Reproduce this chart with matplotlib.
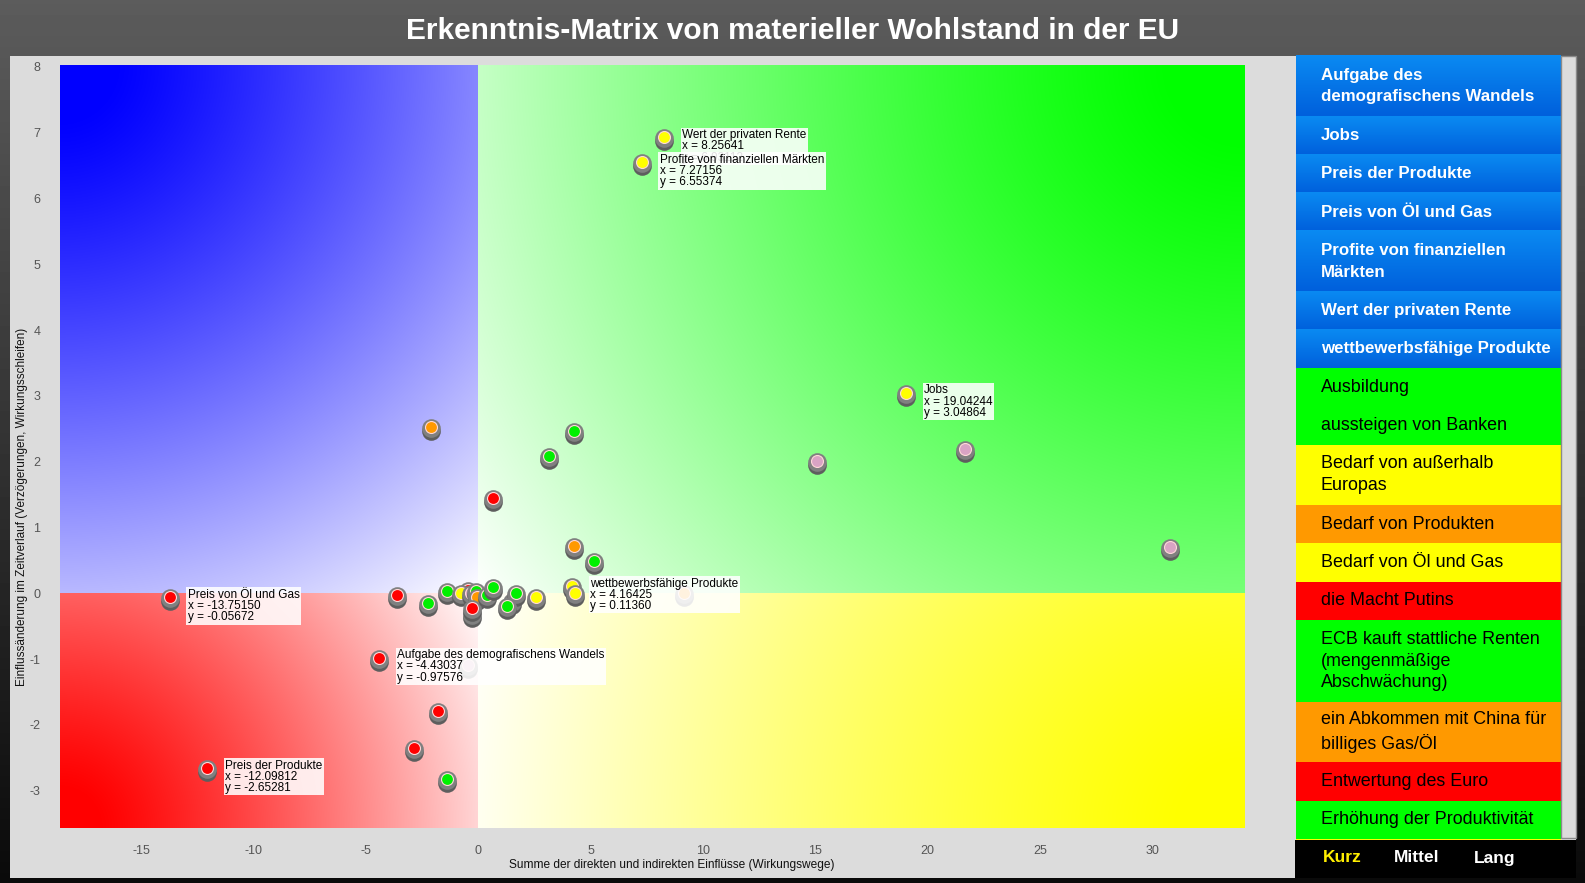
import numpy as np
import matplotlib
matplotlib.use("Agg")
import matplotlib.pyplot as plt
import matplotlib.transforms as mtransforms
from matplotlib.patches import Rectangle
from matplotlib.colors import LinearSegmentedColormap

plt.rcParams['font.family'] = ['Liberation Sans', 'DejaVu Sans']
plt.rcParams['axes.unicode_minus'] = False

# ---- data ----
label_names = ['Wert der privaten Rente', 'Profite von finanziellen Märkten', 'Jobs',
               'wettbewerbsfähige Produkte', 'Preis von Öl und Gas',
               'Aufgabe des demografischens Wandels', 'Preis der Produkte']
label_x = [8.25641, 7.27156, 19.04244, 4.16425, -13.75150, -4.43037, -12.09812]
label_y = [6.93112, 6.55374, 3.04864, 0.11360, -0.05672, -0.97576, -2.65281]
label_col = ['yellow', 'yellow', 'yellow', 'yellow', 'red', 'red', 'red']

pts_x = [-2.12, 4.27, 3.14, 0.66, 4.27, 5.16, -3.64, -2.24, -0.45, -1.39, -0.78,
         -0.35, -0.10, -0.28, -0.08, -0.28, 0.40, 0.66, 1.50, 1.67, 1.26, 2.56,
         4.30, 9.17, -0.45, -1.82, -2.86, -1.39, 15.06, 21.68, 30.82]
pts_y = [2.53, 2.46, 2.08, 1.45, 0.72, 0.49, -0.02, -0.14, 0.05, 0.04, 0.01,
         0.00, 0.03, -0.32, -0.05, -0.23, -0.02, 0.09, -0.12, 0.01, -0.20, -0.05,
         0.01, 0.00, -1.09, -1.79, -2.35, -2.82, 2.01, 2.20, 0.71]
pts_col = ['orange', 'green', 'green', 'red', 'orange', 'green', 'red', 'green', 'red',
           'green', 'yellow', 'pink', 'green', 'red', 'orange', 'red', 'green', 'green',
           'pink', 'green', 'green', 'yellow', 'yellow', 'orange', 'pink', 'red', 'red',
           'green', 'pink', 'pink', 'pink']

marker_colors = {'red': '#ff0000', 'green': '#00f000', 'yellow': '#ffff00',
                 'orange': '#ff9900', 'pink': '#d9a3c4'}

x_ticks = [-15, -10, -5, 0, 5, 10, 15, 20, 25, 30]
y_ticks = [-3, -2, -1, 0, 1, 2, 3, 4, 5, 6, 7, 8]

legend_labels = ['Aufgabe des\ndemografischens Wandels', 'Jobs', 'Preis der Produkte',
                 'Preis von Öl und Gas', 'Profite von finanziellen\nMärkten',
                 'Wert der privaten Rente', 'wettbewerbsfähige Produkte', 'Ausbildung',
                 'aussteigen von Banken', 'Bedarf von außerhalb\nEuropas',
                 'Bedarf von Produkten', 'Bedarf von Öl und Gas', 'die Macht Putins',
                 'ECB kauft stattliche Renten\n(mengenmäßige\nAbschwächung)',
                 'ein Abkommen mit China für\nbilliges Gas/Öl', 'Entwertung des Euro',
                 'Erhöhung der Produktivität', '']
legend_colors = ['blue'] * 7 + ['green', 'green', 'yellow', 'orange', 'yellow', 'red',
                                'green', 'orange', 'red', 'green', 'yellow']
legend_fill = {'green': '#00ff00', 'yellow': '#ffff00', 'orange': '#ff9900', 'red': '#ff0000'}

xmin, xmax = -18.64, 34.14
ymin, ymax = -3.567, 8.03

FW, FH = 1585, 883
fig = plt.figure(figsize=(FW / 100, FH / 100), dpi=100)

# ---- background layer in pixel coordinates ----
bg = fig.add_axes([0, 0, 1, 1], zorder=0)
bg.axis('off')
grad = np.linspace(0.36, 0.04, 200)[:, None]
bg.imshow(grad, cmap='gray', vmin=0, vmax=1, extent=[0, FW, FH, 0], aspect='auto',
          interpolation='bilinear')
bg.add_patch(Rectangle((10, 56), 1566, 822, facecolor='#dcdcdc', edgecolor='none'))
bg.text(FW / 2, 31, 'Erkenntnis-Matrix von materieller Wohlstand in der EU', color='white',
        fontsize=21.5, fontweight='bold', ha='center', va='center')

# legend panel
top = 56
blue_grad = np.linspace(0, 1, 50)[:, None]
blue_cm = LinearSegmentedColormap.from_list('b', ['#0a8af2', '#0060dc'])
for lab, col in zip(legend_labels, legend_colors):
    n = lab.count('\n') + 1
    h = 16.3 + 22 * n
    if col == 'blue':
        bg.imshow(blue_grad, cmap=blue_cm, extent=[1296, 1561, top + h, top], aspect='auto',
                  interpolation='bilinear', zorder=2)
        bg.text(1321, top + h / 2, lab, color='white', fontsize=12.2, fontweight='bold',
                va='center', ha='left', zorder=3, linespacing=1.55)
    else:
        bg.add_patch(Rectangle((1296, top), 265, h, facecolor=legend_fill[col],
                               edgecolor='none', zorder=2))
        bg.text(1321, top + h / 2, lab, color='black', fontsize=12.9,
                va='center', ha='left', zorder=3, linespacing=1.38)
    top += h
bg.set_xlim(0, FW)
bg.set_ylim(FH, 0)
bg.add_patch(Rectangle((1561, 56), 15, 782, facecolor='#dcdcdc', edgecolor='#8a8a8a',
                       lw=1, zorder=2))
bg.add_patch(Rectangle((1295, 840), 281, 38, facecolor='black', edgecolor='none', zorder=4))
for name, xc, c in [('Kurz', 1342, '#ffee00'), ('Mittel', 1417, 'white'), ('Lang', 1495, 'white')]:
    bg.text(xc, 858, name, color=c, fontsize=12.5, fontweight='bold', ha='center',
            va='center', zorder=5)

fig.text(22 / FW, 1 - 507 / FH, 'Einflussänderung im Zeitverlauf (Verzögerungen, Wirkungsschleifen)',
         rotation=90, ha='center', va='center', fontsize=8.5, color='#111111')
fig.text(672 / FW, 1 - 865 / FH, 'Summe der direkten und indirekten Einflüsse (Wirkungswege)',
         ha='center', va='center', fontsize=8.6, color='#111111')

# ---- main plot ----
ax = fig.add_axes([60 / FW, 1 - 828 / FH, 1185 / FW, 763 / FH], zorder=1)
ax.set_xlim(xmin, xmax)
ax.set_ylim(ymin, ymax)

# quadrant gradients (radial from each outer corner towards the origin)
W, H = 1185, 763
gx, gy = np.meshgrid(np.arange(W) + 0.5, np.arange(H) + 0.5)
x0 = (0 - xmin) / (xmax - xmin) * W
y0 = (ymax - 0) / (ymax - ymin) * H
right = gx >= x0
upper = gy < y0
cx = np.where(right, W, 0)
cy = np.where(upper, 0, H)
R = np.hypot(cx - x0, cy - y0)
wt = np.clip((np.hypot(gx - cx, gy - cy) / R - 0.08) / 0.92, 0, 1) ** 1.2
base = np.zeros((H, W, 3))
base[upper & ~right] = [0, 0, 1]
base[upper & right] = [0, 1, 0]
base[~upper & ~right] = [1, 0, 0]
base[~upper & right] = [1, 1, 0]
img = base * (1 - wt[..., None]) + wt[..., None]
ax.imshow(img, extent=[xmin, xmax, ymin, ymax], aspect='auto', origin='upper', zorder=0)

for s in ax.spines.values():
    s.set_visible(False)
ax.set_xticks(x_ticks)
ax.set_yticks(y_ticks)
ax.tick_params(length=0, labelsize=9, labelcolor='#555555')
ax.tick_params(axis='y', pad=14)
ax.tick_params(axis='x', pad=12)

shadow_tr = mtransforms.offset_copy(ax.transData, fig=fig, x=0, y=-4, units='dots')
ring_tr = mtransforms.offset_copy(ax.transData, fig=fig, x=0, y=-1, units='dots')


def draw_marker(x, y, col):
    c = marker_colors[col]
    ax.scatter([x], [y], s=180, color='#5e5e5e', transform=shadow_tr, zorder=3, lw=0)
    ax.scatter([x], [y], s=180, color='#808080', transform=ring_tr, zorder=3, lw=0)
    ax.scatter([x], [y], s=74, color=c, edgecolors='#ffd8d8', linewidths=0.8, zorder=3)


for x, y, c in zip(label_x, label_y, label_col):
    draw_marker(x, y, c)
for x, y, c in zip(pts_x, pts_y, pts_col):
    draw_marker(x, y, c)

# label boxes; the later box covers the last line of the one above, as in the original
for name, x, y in zip(label_names, label_x, label_y):
    txt = f'{name}\nx = {x:.5f}\ny = {y:.5f}'
    ax.annotate(txt, (x, y), xytext=(13, 6), textcoords='offset points', ha='left', va='top',
                fontsize=8.5, linespacing=0.92, color='black', zorder=5,
                bbox=dict(boxstyle='square,pad=0.12', facecolor='white', edgecolor='none',
                          alpha=0.88))

fig.savefig('out.png', dpi=100)
